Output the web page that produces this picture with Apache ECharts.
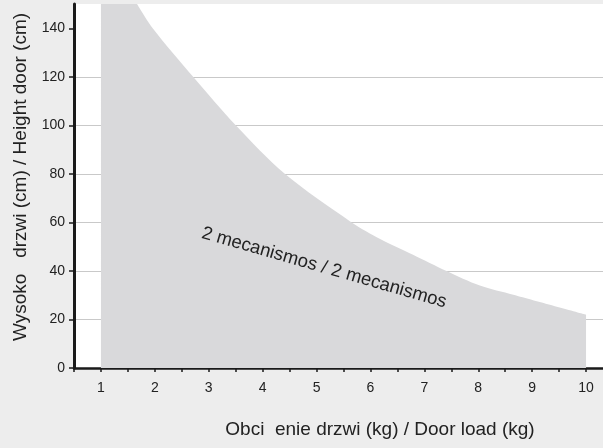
<!DOCTYPE html>
<html>
<head>
<meta charset="utf-8">
<script src="https://cdn.jsdelivr.net/npm/echarts@6/dist/echarts.min.js"></script>
<style>
html,body{margin:0;padding:0;background:#ededed;}
#chart{width:603px;height:448px;}
</style>
</head>
<body>
<div id="chart"></div>
<script>
// Data
const loadKg    = [1, 1.67, 1.96, 2.71, 3.5, 4.41, 5.65, 6.18, 6.79, 7.41, 8.03, 8.65, 10];
const heightCm  = [175, 150, 140, 120, 100, 80, 60, 53.2, 46.7, 40, 34, 30.2, 22];
const yTicks    = [0, 20, 40, 60, 80, 100, 120, 140];
const xLabels   = [1, 2, 3, 4, 5, 6, 7, 8, 9, 10];
const xTitle    = 'Obci  enie drzwi (kg) / Door load (kg)';
const yTitle    = 'Wysoko   drzwi (cm) / Height door (cm)';
const areaLabel = '2 mecanismos / 2 mecanismos';

const FONT = "'Liberation Sans', Arial, Helvetica, sans-serif";
const chart = echarts.init(document.getElementById('chart'), null, {renderer: 'canvas'});

const option = {
  backgroundColor: '#ededed',
  animation: false,
  grid: {left: 74, top: 4, width: 539, bottom: 80, outerBoundsMode: 'none', containLabel: false,
         show: true, backgroundColor: '#ffffff', borderWidth: 0},
  xAxis: {
    type: 'value', min: 0.5, max: 10.5, interval: 0.5,
    axisLine: {show: true, onZero: false, lineStyle: {color: '#1a1a1a', width: 2.5}},
    axisTick: {show: true, inside: false, length: 4, lineStyle: {color: '#1a1a1a', width: 1.5}},
    axisLabel: {
      margin: 13, color: '#222', fontSize: 14, fontFamily: FONT,
      formatter: v => (xLabels.indexOf(v) >= 0 ? String(v) : '')
    },
    splitLine: {show: false}
  },
  yAxis: {
    type: 'value', min: 0, max: 150, interval: 20,
    axisLine: {show: true, lineStyle: {color: '#1a1a1a', width: 3}},
    axisTick: {show: true, length: 5, lineStyle: {color: '#1a1a1a', width: 1.5}, customValues: yTicks},
    axisLabel: {margin: 9, color: '#222', fontSize: 14, fontFamily: FONT, customValues: yTicks},
    splitLine: {show: true, showMaxLine: false, lineStyle: {color: '#c9c9c9', width: 1.2}}
  },
  series: [{
    type: 'line',
    data: loadKg.map((x, i) => [x, heightCm[i]]),
    smooth: 0.3,
    showSymbol: false, symbol: 'none',
    lineStyle: {width: 0, color: '#d9d9db'},
    areaStyle: {color: '#d9d9db', opacity: 1},
    clip: true,
    z: 1
  }]
};
chart.setOption(option);

const p = chart.convertToPixel({gridIndex: 0}, [5.14, 41.3]);
chart.setOption({
  graphic: [
    {type: 'text', x: 380, y: 430, style: {text: xTitle, fill: '#222', font: '19px ' + FONT, textAlign: 'center', textVerticalAlign: 'middle'}},
    {type: 'text', x: 21, y: 177, rotation: Math.PI / 2, style: {text: yTitle, fill: '#222', font: '19px ' + FONT, textAlign: 'center', textVerticalAlign: 'middle'}},
    {type: 'text', x: p[0], y: p[1], rotation: -16 * Math.PI / 180, style: {text: areaLabel, fill: '#222', font: '18.5px ' + FONT, textAlign: 'center', textVerticalAlign: 'middle'}, z: 10}
  ]
});
</script>
</body>
</html>
